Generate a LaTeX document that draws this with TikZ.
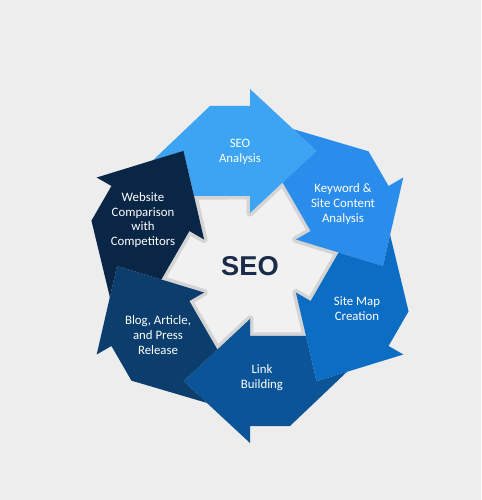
\documentclass[tikz,border=0pt]{standalone}
\usepackage{fontspec}
\setmainfont{Carlito}
\newfontfamily\seofont{Liberation Sans}

\definecolor{backcol}{HTML}{EDEDED}
\definecolor{starcol}{HTML}{F1F1F1}
\definecolor{shadecol}{HTML}{D4D4D4}
\definecolor{seotext}{HTML}{1A2B4A}
\definecolor{seoA}{HTML}{3CA4F2}
\definecolor{seoB}{HTML}{2B8DEB}
\definecolor{seoC}{HTML}{0B6DC4}
\definecolor{seoD}{HTML}{0B5497}
\definecolor{seoE}{HTML}{0C3E6D}
\definecolor{seoF}{HTML}{0A2647}

\begin{document}
\begin{tikzpicture}[x=0.02cm, y=0.02cm,
    lbl/.style={text=white, align=center, font=\fontsize{7.3}{8.4}\selectfont}]
  \fill[backcol] (-250, -234) rectangle (231, 266);
  \useasboundingbox (-250, -234) rectangle (231, 266);
  % hole in the middle, with its grey rim
  \filldraw[fill=starcol, draw=shadecol, line width=0.14cm, line join=round]
    (128.66:89.64) \foreach \i in {0, ..., 5}{
      -- ({128.66-60*\i}:89.64) -- ({90-60*\i}:70) -- ({90-60*\i}:53)
    } -- cycle;
  % six arrows, each one notched by the one before
  \foreach \i/\c in {0/seoA, 1/seoB, 2/seoC, 3/seoD, 4/seoE, 5/seoF}{
    \fill[\c, rotate={-60*\i}] (66.5, 115.2) -- (0, 177) -- (0, 160) -- (-40, 160)
      -- (-97, 105.8) -- (-66.5, 115.2) -- (-56, 70) -- (0, 70) -- (0, 53) -- cycle;
  }
  \node[text=seotext, font=\seofont\bfseries\fontsize{15.5}{18}\selectfont] (seo) at (0, 0) {SEO};
  \node[lbl] (analysis) at (-10, 114) {SEO\\Analysis};
  \node[lbl] (keyword) at (93, 62) {Keyword \&\\Site Content\\Analysis};
  \node[lbl] (sitemap) at (107, -43) {Site Map\\Creation};
  \node[lbl] (link) at (12, -112) {Link\\Building};
  \node[lbl] (blog) at (-92, -69) {Blog, Article,\\and Press\\Release};
  \node[lbl] (website) at (-107, 46) {Website\\Comparison\\with\\Competitors};
\end{tikzpicture}
\end{document}
